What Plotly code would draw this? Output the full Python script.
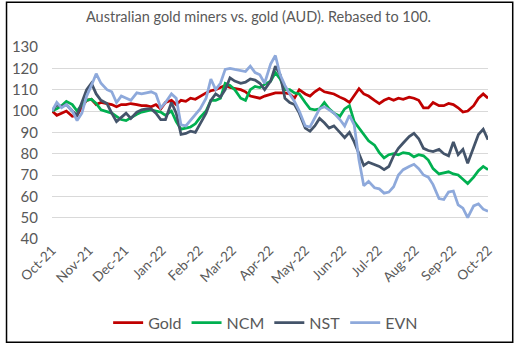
import plotly.graph_objects as go

dates = [
    "2021-10-01", "2021-10-05", "2021-10-09", "2021-10-13", "2021-10-18", "2021-10-22", "2021-10-26", "2021-10-30",
    "2021-11-03", "2021-11-07", "2021-11-11", "2021-11-16", "2021-11-20", "2021-11-24", "2021-11-28",
    "2021-12-02", "2021-12-06", "2021-12-11", "2021-12-15", "2021-12-19", "2021-12-23", "2021-12-27", "2021-12-31",
    "2022-01-04", "2022-01-09", "2022-01-13", "2022-01-17", "2022-01-21", "2022-01-25", "2022-01-29",
    "2022-02-02", "2022-02-07", "2022-02-11", "2022-02-15", "2022-02-19", "2022-02-23", "2022-02-27",
    "2022-03-03", "2022-03-08", "2022-03-12", "2022-03-16", "2022-03-20", "2022-03-24", "2022-03-28",
    "2022-04-02", "2022-04-06", "2022-04-10", "2022-04-14", "2022-04-18", "2022-04-22", "2022-04-26",
    "2022-05-01", "2022-05-05", "2022-05-09", "2022-05-13", "2022-05-17", "2022-05-21", "2022-05-25", "2022-05-30",
    "2022-06-03", "2022-06-07", "2022-06-11", "2022-06-15", "2022-06-19", "2022-06-23", "2022-06-28",
    "2022-07-02", "2022-07-06", "2022-07-10", "2022-07-14", "2022-07-18", "2022-07-22", "2022-07-27", "2022-07-31",
    "2022-08-04", "2022-08-08", "2022-08-12", "2022-08-16", "2022-08-21", "2022-08-25", "2022-08-29",
    "2022-09-02", "2022-09-06", "2022-09-10", "2022-09-14", "2022-09-19", "2022-09-23", "2022-09-27", "2022-10-01",
]

gold = [100, 98, 99, 100, 97.5, 98, 102, 105, 105.5, 103, 104, 103.5, 103, 102, 103, 103, 103.5, 103, 102.5, 102.5,
        102, 103, 101, 104, 105, 103, 105, 104.5, 106, 105.5, 107, 108.5, 109.5, 110, 111, 112, 111, 110.5, 110, 109,
        107, 106.5, 106, 107, 108, 108.5, 108.5, 108.5, 108, 106, 110, 108, 107, 109, 110.5, 109, 108.5, 108, 106.5,
        105.5, 104, 107, 110.5, 108, 107, 105, 103.5, 105, 106, 105, 106, 105.5, 106.5, 106, 105, 101.5, 101.5, 104,
        102.5, 102.5, 103.5, 103, 101.5, 99.5, 100, 102.5, 106, 108, 106]

ncm = [100, 101, 102.5, 104.5, 103, 100, 103, 105, 105.5, 103.5, 100.5, 99.5, 99, 97.5, 96, 95.5, 97, 98.5, 99.5, 100,
       100.5, 100, 99.5, 98, 100, 95, 91.5, 92, 92.5, 94, 97, 100, 105, 105, 106, 113, 112, 110, 106, 105,
       110, 111.5, 111, 112.5, 114, 118, 115, 110, 110, 108.5, 108, 104, 101, 100.5, 101, 104, 101, 99, 97.5,
       101, 102.5, 95, 92, 88.5, 86, 84, 80.5, 78, 79.5, 80, 79.5, 80.5, 80, 78.5, 79.5, 79, 77, 73,
       70.5, 71, 71.5, 70.5, 70, 68, 66, 69, 72, 74, 72.5]

nst = [100, 103, 102, 103, 100, 98, 104, 110, 113, 108, 105, 103.5, 99, 95, 97, 99, 96.5, 99.5, 100.5, 101,
       101, 99, 96, 96, 104, 99, 89, 89.5, 90.5, 90, 94, 99, 105, 108, 106.5, 110, 115.5, 114, 113, 113.5,
       115, 114.5, 113, 110, 114, 121, 117, 106, 104, 103, 99, 92, 90.5, 93, 96.5, 94.5, 92, 93, 90,
       87.5, 90, 85.5, 80, 74.5, 76, 75, 74, 72.5, 74, 79, 82.5, 85, 88, 89.5, 87, 82.5, 81.5, 81,
       82, 80, 79, 85.5, 79.5, 82, 75.5, 83, 89, 91.5, 86.5]

evn = [100, 104, 101.5, 103, 100, 95.5, 99, 107, 112, 117.5, 113, 110, 109, 104, 107, 106, 105, 108.5, 108, 108.5,
       109, 108, 101.5, 104, 108, 106, 93.5, 93, 95.5, 98, 101, 106, 115, 110, 113, 119.5, 120, 119.5, 119, 118.5,
       121, 118, 117, 113, 122, 126, 117, 112, 108, 104.5, 100, 93, 92.5, 97, 101, 102, 100.5, 99, 96,
       93, 98, 93.5, 77, 65, 67, 64, 63.5, 61.5, 62, 64.5, 70, 72.5, 74, 75, 73, 70, 69, 65.5,
       59, 58.5, 62, 62.5, 56, 54.5, 50, 55.5, 56.5, 54, 53]

series_names = ["Gold", "NCM", "NST", "EVN"]
series_values = [gold, ncm, nst, evn]
series_colors = ["#C00000", "#00B050", "#44546A", "#8EA9DB"]

FONT = "Lato"
GREY = "#595959"

fig = go.Figure()
for name, vals, col in zip(series_names, series_values, series_colors):
    fig.add_trace(go.Scatter(x=dates, y=vals, mode="lines", name=name,
                             line=dict(color=col, width=2.75)))

# plot area in px: left 47, right 488, top 47, bottom 244
L, R, T, B = 47, 488, 47, 244
W, H = 517, 352
pw, ph = R - L, B - T

fig.update_layout(
    width=W, height=H,
    margin=dict(l=L, r=W - R, t=T, b=H - B, pad=0),
    paper_bgcolor="white", plot_bgcolor="white",
    font=dict(family=FONT, color=GREY, size=13),
    title=dict(text="Australian gold miners vs. gold (AUD). Rebased to 100.",
               x=0.5, xanchor="center", y=1 - 17 / H, yanchor="middle",
               font=dict(family=FONT, size=14.5, color=GREY)),
    showlegend=True,
    legend=dict(orientation="h", x=0.49, xanchor="center",
                y=(B - 330) / ph, yanchor="middle",
                font=dict(family=FONT, size=16, color=GREY),
                bgcolor="rgba(0,0,0,0)", itemwidth=30, tracegroupgap=0),
    xaxis=dict(type="date", range=["2021-10-01", "2022-10-01"],
               tick0="2021-10-01", dtick="M1", tickformat="%b-%y",
               tickangle=-45, showgrid=False, zeroline=False,
               showline=False, ticks="",
               tickfont=dict(family=FONT, size=13.5, color=GREY)),
    yaxis=dict(range=[40, 130], dtick=10, tick0=40, showgrid=True,
               gridcolor="#D9D9D9", gridwidth=1, zeroline=False,
               showline=False, ticks="", ticklabelstandoff=13,
               tickfont=dict(family=FONT, size=15, color=GREY)),
)

# outer chart border
fig.add_shape(type="rect", xref="paper", yref="paper",
              x0=(1 - L) / pw, x1=(513 - L) / pw,
              y0=(B - 350) / ph, y1=(B - 1) / ph,
              line=dict(color="black", width=1.5), fillcolor="rgba(0,0,0,0)",
              layer="above")

fig.write_html("out.html")
